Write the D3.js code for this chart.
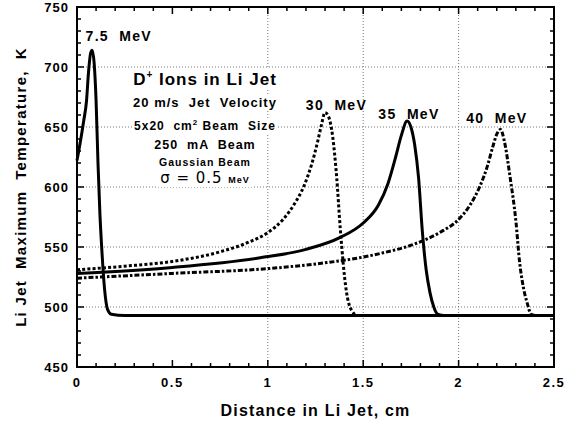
<!DOCTYPE html>
<html>
<head>
<meta charset="utf-8">
<script src="https://cdn.jsdelivr.net/npm/d3@7"></script>
<style>
  body { margin: 0; background: #fff; }
  text { font-family: "Liberation Sans", Arial, sans-serif; font-weight: bold; fill: #000; }
</style>
</head>
<body>
<div id="chart"></div>
<script>
// distance along jet (cm) and max temperature (K)
const dist75 = [0, 0.02, 0.035, 0.05, 0.06, 0.072, 0.08, 0.09, 0.1, 0.11, 0.12, 0.13, 0.145, 0.16, 0.18, 0.25, 2.5];
const temp75 = [622, 640, 655, 672, 695, 712, 714, 703, 672, 620, 578, 548, 514, 498, 494, 493, 493];

const dist30 = [0, 0.25, 0.5, 0.75, 0.9, 1.0, 1.08, 1.14, 1.19, 1.23, 1.26, 1.28, 1.3, 1.32, 1.34, 1.36, 1.38, 1.41, 1.44, 1.47, 1.5];
const temp30 = [531, 534, 538, 546, 554, 562, 573, 586, 601, 619, 637, 651, 662, 658, 642, 610, 565, 515, 497, 493, 493];

const dist35 = [0, 0.5, 0.96, 1.2, 1.38, 1.5, 1.58, 1.63, 1.67, 1.7, 1.73, 1.75, 1.77, 1.79, 1.81, 1.83, 1.85, 1.87, 1.89, 1.92];
const temp35 = [528, 533, 541, 548, 558, 570, 585, 603, 625, 643, 655, 650, 635, 608, 563, 531, 512, 500, 494, 493];

const dist40 = [0, 0.5, 1.0, 1.31, 1.48, 1.6, 1.76, 1.9, 2.0, 2.06, 2.11, 2.15, 2.18, 2.2, 2.22, 2.24, 2.27, 2.3, 2.32, 2.34, 2.36, 2.38, 2.4];
const temp40 = [524, 528, 532, 537, 541, 545, 552, 562, 573, 585, 600, 617, 634, 644, 648, 638, 608, 572, 537, 516, 503, 494, 493];

const xTicks = [0, 0.5, 1, 1.5, 2, 2.5];
const yTicks = [450, 500, 550, 600, 650, 700, 750];

const width = 572, height = 425;
const margin = { left: 77, right: 18, top: 7, bottom: 58 };

const svg = d3.select('#chart').append('svg')
    .attr('width', width)
    .attr('height', height);

const x = d3.scaleLinear().domain([0, 2.5]).range([margin.left, width - margin.right]);
const y = d3.scaleLinear().domain([450, 750]).range([height - margin.bottom, margin.top]);

// grid (dotted)
const grid = svg.append('g').attr('stroke', '#777').attr('stroke-width', 1).attr('stroke-dasharray', '1,2');
[500, 550, 600, 650, 700].forEach(v => {
    grid.append('line').attr('x1', x(0)).attr('x2', x(2.5)).attr('y1', y(v)).attr('y2', y(v));
});
[1, 1.5, 2].forEach(v => {
    grid.append('line').attr('x1', x(v)).attr('x2', x(v)).attr('y1', y(450)).attr('y2', y(750));
});

// inward ticks on all four sides
const ticks = svg.append('g').attr('stroke', '#000').attr('stroke-width', 1.5);
d3.range(450, 751, 10).forEach(v => {
    const len = v % 50 === 0 ? 7 : 4;
    ticks.append('line').attr('x1', x(0)).attr('x2', x(0) + len).attr('y1', y(v)).attr('y2', y(v));
    ticks.append('line').attr('x1', x(2.5)).attr('x2', x(2.5) - len).attr('y1', y(v)).attr('y2', y(v));
});
d3.range(0, 26).map(i => i / 10).forEach(v => {
    const len = Math.round(v * 10) % 5 === 0 ? 7 : 4;
    ticks.append('line').attr('x1', x(v)).attr('x2', x(v)).attr('y1', y(450)).attr('y2', y(450) - len);
    ticks.append('line').attr('x1', x(v)).attr('x2', x(v)).attr('y1', y(750)).attr('y2', y(750) + len);
});

// tick labels
svg.append('g').selectAll('text').data(yTicks).enter().append('text')
    .attr('x', x(0) - 8)
    .attr('y', d => y(d) + 5)
    .attr('text-anchor', 'end')
    .style('font-size', '13px')
    .style('letter-spacing', '1px')
    .text(d => d);

svg.append('g').selectAll('text').data(xTicks).enter().append('text')
    .attr('x', d => x(d))
    .attr('y', y(450) + 20)
    .attr('text-anchor', 'middle')
    .style('font-size', '13px')
    .style('letter-spacing', '1.5px')
    .text(d => d);

// axis titles
svg.append('text')
    .attr('x', x(1.25))
    .attr('y', 416)
    .attr('text-anchor', 'middle')
    .style('font-size', '16px')
    .style('letter-spacing', '1.2px')
    .style('white-space', 'pre')
    .text('Distance in Li Jet, cm');

svg.append('text')
    .attr('transform', `translate(26,${y(600)}) rotate(-90)`)
    .attr('text-anchor', 'middle')
    .style('font-size', '15px')
    .style('letter-spacing', '1.3px')
    .style('white-space', 'pre')
    .text('Li Jet  Maximum  Temperature,  K');

// info block, each line over a white patch so grid breaks behind it
const info = svg.append('g');
function infoLine(txt, yy, size) {
    const t = info.append('text')
        .attr('x', 205).attr('y', yy)
        .attr('text-anchor', 'middle')
        .style('font-size', size + 'px')
        .style('letter-spacing', '1px')
        .style('white-space', 'pre');
    if (typeof txt === 'string') t.text(txt);
    else txt(t);
    const b = t.node().getBBox();
    info.insert('rect', 'text')
        .attr('x', b.x - 2).attr('y', b.y)
        .attr('width', b.width + 4).attr('height', b.height)
        .attr('fill', '#fff');
}
infoLine(t => {
    t.append('tspan').text('D');
    t.append('tspan').attr('dy', -7).style('font-size', '10px').text('+');
    t.append('tspan').attr('dy', 7).text(' Ions in Li Jet');
}, 85, 17);
infoLine('20 m/s  Jet  Velocity', 107, 13);
infoLine(t => {
    t.append('tspan').text('5x20  cm');
    t.append('tspan').attr('dy', -5).style('font-size', '8px').text('2');
    t.append('tspan').attr('dy', 5).text(' Beam  Size');
}, 130, 12);
infoLine('250  mA  Beam', 149, 12.5);
infoLine('Gaussian Beam', 166, 10.5);
infoLine(t => {
    t.append('tspan').style('font-weight', 'normal').style('font-size', '15px')
        .style('font-family', '"DejaVu Sans", sans-serif').text('σ = 0.5 ');
    t.append('tspan').style('font-size', '9px').text('MeV');
}, 183, 14);

// curves
const line = d3.line()
    .x(d => x(d[0]))
    .y(d => y(d[1]))
    .curve(d3.curveMonotoneX);

const series = [
    { d: dist75, t: temp75, dash: null },
    { d: dist30, t: temp30, dash: '3,2.2' },
    { d: dist35, t: temp35, dash: null },
    { d: dist40, t: temp40, dash: '5,2,2.5,2' }
];

svg.append('g').selectAll('path').data(series).enter().append('path')
    .attr('d', s => line(d3.zip(s.d, s.t)))
    .attr('fill', 'none')
    .attr('stroke', '#000')
    .attr('stroke-width', 3)
    .attr('stroke-dasharray', s => s.dash);

// energy labels
const labels = [
    { txt: '7.5  MeV', at: [0.045, 722], anchor: 'start' },
    { txt: '30  MeV', at: [1.36, 664], anchor: 'middle' },
    { txt: '35  MeV', at: [1.74, 657], anchor: 'middle' },
    { txt: '40  MeV', at: [2.2, 653], anchor: 'middle' }
];
svg.append('g').selectAll('text').data(labels).enter().append('text')
    .attr('x', d => x(d.at[0]))
    .attr('y', d => y(d.at[1]))
    .attr('text-anchor', d => d.anchor)
    .style('font-size', '14px')
    .style('letter-spacing', '1.3px')
    .style('white-space', 'pre')
    .text(d => d.txt);

// frame
svg.append('rect')
    .attr('x', x(0)).attr('y', y(750))
    .attr('width', x(2.5) - x(0)).attr('height', y(450) - y(750))
    .attr('fill', 'none').attr('stroke', '#000').attr('stroke-width', 2);
</script>
</body>
</html>
